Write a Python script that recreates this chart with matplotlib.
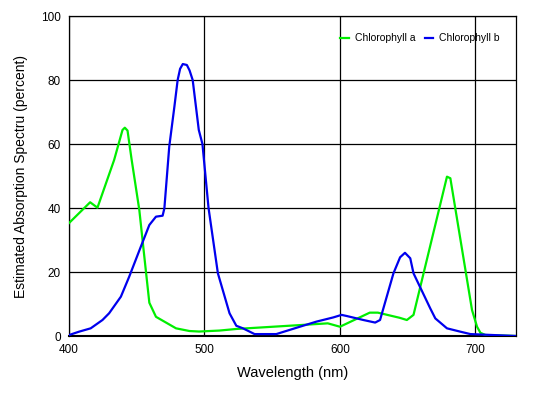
import matplotlib
matplotlib.use('agg')
import matplotlib.pyplot as plt

# Chlorophyll a absorption
chl_a_nm = [400, 415.6, 421, 433.3, 439.5, 441.2, 443.2, 446.2, 451.9, 455.6, 459.3,
            464.2, 479, 488.9, 496, 511, 523.5, 570, 591, 600, 622, 628, 644,
            649.4, 654.3, 679, 681.5, 697.5, 701.2, 703.7, 707.4, 730]
chl_a_abs = [35.3, 41.8, 40.1, 55.0, 64.4, 65.1, 64.2, 55.2, 39.4, 24.8, 10.4,
             6.0, 2.4, 1.56, 1.4, 1.7, 2.2, 3.4, 3.96, 2.9, 7.3, 7.3, 5.7,
             5.0, 6.6, 49.8, 49.3, 8.1, 2.9, 1.0, 0.3, 0.0]

# Chlorophyll b absorption
chl_b_nm = [400, 407.4, 416, 424.7, 429.6, 438.3, 444.4, 453, 459.3, 464.2, 469.1,
            470.4, 474, 477.8, 480.2, 482, 484, 487, 489, 491.3, 495.8, 498.5,
            503, 509.9, 518.5, 523.5, 528.4, 537, 553, 570.4, 582.7, 595, 601.2,
            605, 617.3, 626, 629.6, 639.5, 644.4, 648, 651.9, 654.3, 666.7, 670.4,
            679, 688.9, 696.3, 730]
chl_b_abs = [0.3, 1.35, 2.4, 5.0, 7.1, 12.3, 18.5, 27.9, 34.7, 37.3, 37.6,
             39.9, 59.2, 71.7, 80.0, 83.5, 85.0, 84.7, 83.0, 80.0, 64.4, 60.0,
             40.0, 19.6, 7.1, 3.2, 2.4, 0.6, 0.6, 2.9, 4.5, 5.8, 6.6,
             6.25, 5.0, 4.2, 5.0, 19.6, 24.6, 26.0, 24.3, 19.6, 8.6, 5.5,
             2.4, 1.35, 0.6, 0.0]

x_ticks = [400, 500, 600, 700]
y_ticks = [0, 20, 40, 60, 80, 100]

plt.rcParams['font.family'] = ['Liberation Sans', 'DejaVu Sans']

fig = plt.figure(figsize=(5.37, 3.96), dpi=100)
ax = fig.add_axes([0.1285, 0.1515, 0.8325, 0.808])

ax.plot(chl_a_nm, chl_a_abs, color='#00ee00', lw=1.6, label='Chlorophyll a', zorder=3)
ax.plot(chl_b_nm, chl_b_abs, color='#0000ee', lw=1.6, label='Chlorophyll b', zorder=4)

ax.set_xlim(400, 730)
ax.set_ylim(0, 100)
ax.set_xticks(x_ticks)
ax.set_yticks(y_ticks)
ax.tick_params(length=0, labelsize=8.5, pad=6)
ax.grid(True, color='black', lw=0.9)
for s in ax.spines.values():
    s.set_color('black')
    s.set_linewidth(0.9)
ax.spines['bottom'].set_linewidth(1.5)

ax.set_xlabel('Wavelength (nm)', fontsize=10.5, labelpad=7)
ax.set_ylabel('Estimated Absorption Spectru (percent)', fontsize=10, labelpad=9)

leg = ax.legend(loc='upper right', ncol=2, frameon=False, fontsize=7.5,
                handlelength=0.8, handletextpad=0.6, columnspacing=0.9,
                bbox_to_anchor=(0.985, 0.975))

fig.savefig('out.png', dpi=100, facecolor='white')
plt.close(fig)
